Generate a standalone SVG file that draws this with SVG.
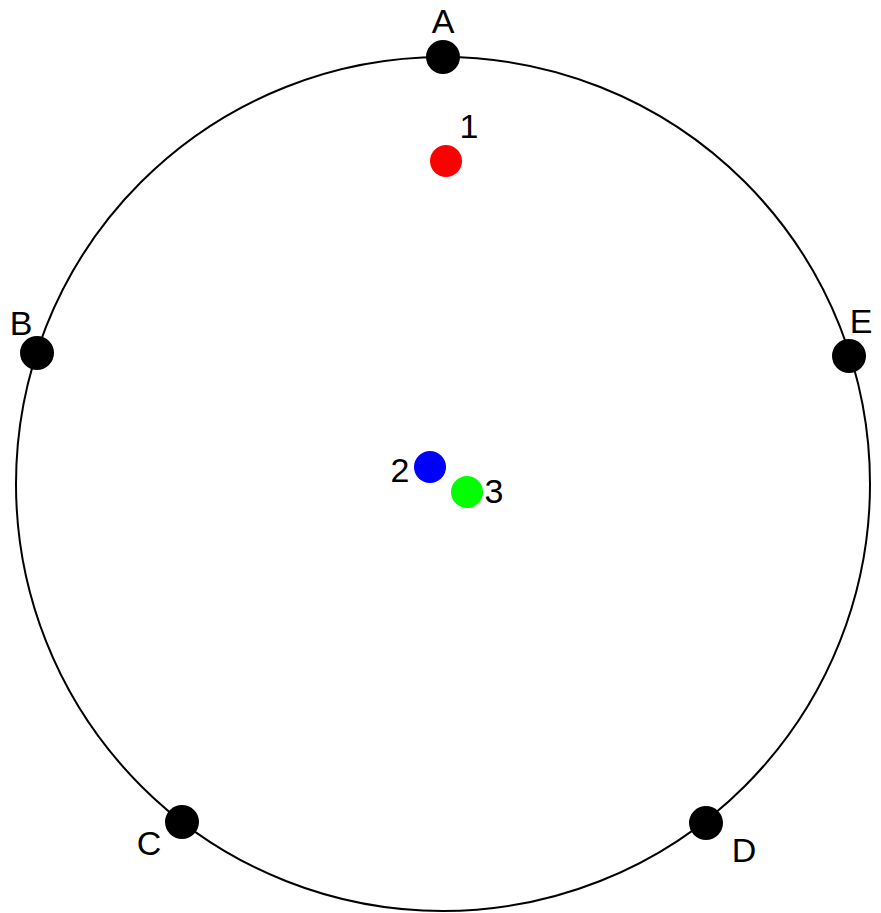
<svg xmlns="http://www.w3.org/2000/svg" width="881" height="913" viewBox="0 0 881 913">
<style>
.lbl{font-family:"Liberation Sans",Arial,sans-serif;font-size:34px;fill:#000}
.v{fill:#000}
</style>
<rect width="881" height="913" fill="#fff"/>
<g id="connectors">
<circle cx="443" cy="484" r="427" fill="none" stroke="#000" stroke-width="2"/>
</g>
<g id="A"><circle class="v" cx="443" cy="57" r="17"/><text class="lbl" x="443" y="33" text-anchor="middle">A</text></g>
<g id="B"><circle class="v" cx="37" cy="353" r="17"/><text class="lbl" x="21" y="335" text-anchor="middle">B</text></g>
<g id="C"><circle class="v" cx="182" cy="822" r="17"/><text class="lbl" x="149" y="855" text-anchor="middle">C</text></g>
<g id="D"><circle class="v" cx="706" cy="823" r="17"/><text class="lbl" x="744" y="862" text-anchor="middle">D</text></g>
<g id="E"><circle class="v" cx="849" cy="356" r="17"/><text class="lbl" x="861" y="333" text-anchor="middle">E</text></g>
<g id="n1"><circle cx="446" cy="161" r="16" fill="#ff0000"/><text class="lbl" x="469" y="138" text-anchor="middle">1</text></g>
<g id="n2"><circle cx="430" cy="467" r="16" fill="#0000ff"/><text class="lbl" x="400" y="482" text-anchor="middle">2</text></g>
<g id="n3"><circle cx="467" cy="492" r="16" fill="#00ff00"/><text class="lbl" x="494" y="503" text-anchor="middle">3</text></g>
</svg>
